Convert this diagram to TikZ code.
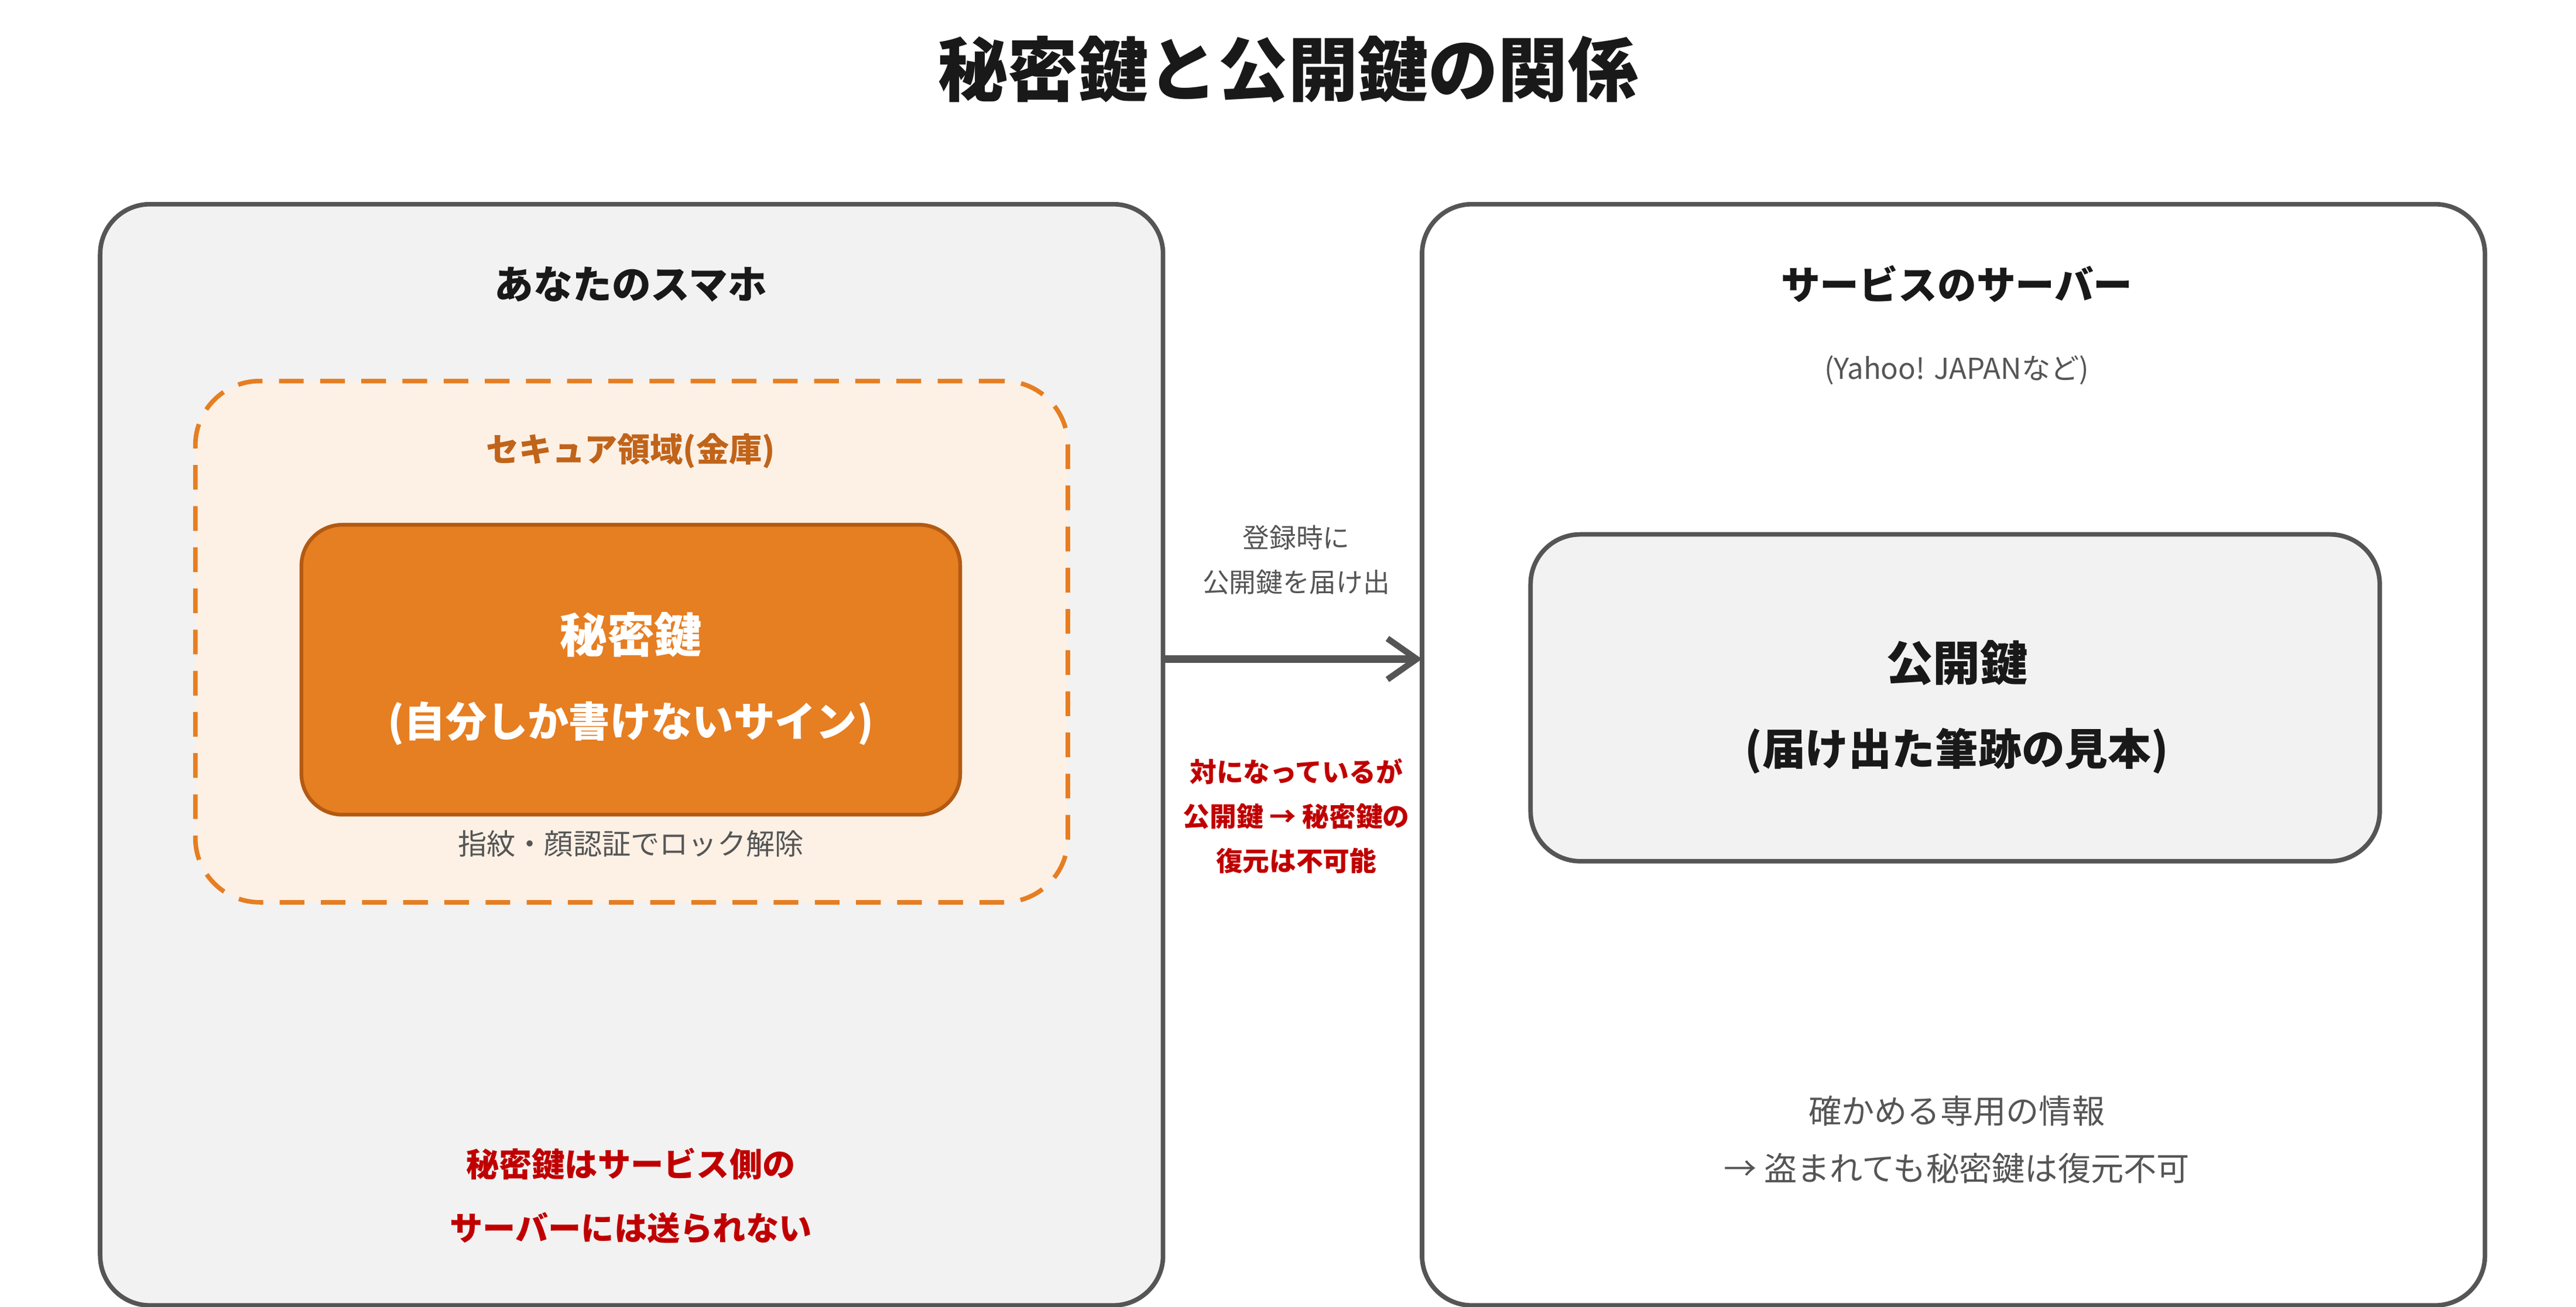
\documentclass[tikz,border=0pt]{standalone}
\usepackage{fontspec}
\setmainfont{Noto Sans CJK JP}
\usetikzlibrary{arrows.meta}
\definecolor{edgegray}{HTML}{555555}
\definecolor{boxgray}{HTML}{F2F2F2}
\definecolor{keyorange}{HTML}{E67E22}
\definecolor{keyedge}{HTML}{B35A12}
\definecolor{safefill}{HTML}{FDF0E5}
\definecolor{safetext}{HTML}{C0641A}
\definecolor{warnred}{HTML}{C00000}
\tikzset{
  panel/.style={draw=edgegray, line width=2.2pt, rounded corners=0.85cm, inner sep=0pt, outer sep=0pt},
  keybox/.style={line width=1.8pt, inner sep=0pt, outer sep=0pt},
  heading/.style={font=\bfseries\fontsize{19}{23}\selectfont, text=black!90},
  note/.style={font=\fontsize{14}{17}\selectfont, text=edgegray},
  arr/.style={draw=edgegray, line width=3.5pt, -{Straight Barb[length=5mm, width=7mm, line width=3pt]}}
}
\begin{document}
\begin{tikzpicture}[x=0.0282cm, y=-0.0282cm]
  \useasboundingbox (0,0) rectangle (1560,791);

  \node[font=\bfseries\fontsize{34}{40}\selectfont, text=black!90] (title) at (780,42) {秘密鍵と公開鍵の関係};

  % left: phone
  \node[panel, fill=boxgray, minimum width=18.15cm, minimum height=18.8cm] (phone) at (382.5,457) {};
  \node[heading] (phonelabel) at (382,172) {あなたのスマホ};
  \node[draw=keyorange, fill=safefill, line width=2.2pt, dash pattern=on 12pt off 8pt,
        rounded corners=1.1cm, inner sep=0pt, minimum width=14.9cm, minimum height=8.9cm] (safe) at (382.5,388.5) {};
  \node[font=\bfseries\fontsize{16}{19}\selectfont, text=safetext] (safelabel) at (382,273) {セキュア領域(金庫)};
  \node[keybox, draw=keyedge, fill=keyorange, rounded corners=0.7cm, minimum width=11.25cm, minimum height=4.95cm] (privkey) at (382,405.5) {};
  \node[font=\bfseries\fontsize{20}{41}\selectfont, text=white, align=center] (privtext) at (382,411) {{\fontsize{23}{41}\selectfont 秘密鍵}\\(自分しか書けないサイン)};
  \node[note] (unlock) at (382,511) {指紋・顔認証でロック解除};
  \node[font=\bfseries\fontsize{16}{31}\selectfont, text=warnred, align=center] (nosend) at (382,724) {秘密鍵はサービス側の\\サーバーには送られない};

  % right: server
  \node[panel, fill=white, minimum width=18.15cm, minimum height=18.8cm] (server) at (1183,457) {};
  \node[heading] (serverlabel) at (1185,172) {サービスのサーバー};
  \node[note] (yahoo) at (1185,224) {(Yahoo! JAPANなど)};
  \node[panel, fill=boxgray, minimum width=14.5cm, minimum height=5.58cm] (pubkey) at (1184,422.5) {};
  \node[font=\bfseries\fontsize{21}{41}\selectfont, text=black!90, align=center] (pubtext) at (1185,428) {{\fontsize{23}{41}\selectfont 公開鍵}\\(届け出た筆跡の見本)};
  \node[font=\fontsize{16}{28}\selectfont, text=edgegray, align=center] (verify) at (1185,690) {確かめる専用の情報\\→ 盗まれても秘密鍵は復元不可};

  % registration arrow
  \draw[arr] (phone.east |- 0,399) -- (server.west |- 0,399);
  \node[font=\fontsize{13}{21.6}\selectfont, text=edgegray, align=center] (register) at (785,339) {登録時に\\公開鍵を届け出};
  \node[font=\bfseries\fontsize{13}{21.6}\selectfont, text=warnred, align=center] (pairnote) at (785,494) {対になっているが\\公開鍵 → 秘密鍵の\\復元は不可能};
\end{tikzpicture}
\end{document}
